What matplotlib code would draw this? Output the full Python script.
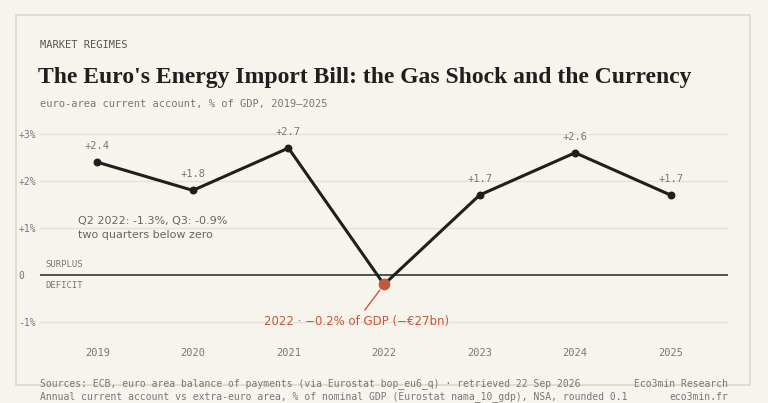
import matplotlib
matplotlib.use("Agg")
import matplotlib.pyplot as plt
from matplotlib.patches import Rectangle

years = [2019, 2020, 2021, 2022, 2023, 2024, 2025]
values = [2.4, 1.8, 2.7, -0.2, 1.7, 2.6, 1.7]
ytick_vals = [-1, 0, 1, 2, 3]
ytick_labels = ["-1%", "0", "+1%", "+2%", "+3%"]

BG = "#f7f4ee"
INK = "#1f1f1f"
GREY = "#777777"
RED = "#c4583a"
MONO = "DejaVu Sans Mono"

fig = plt.figure(figsize=(7.68, 4.03), dpi=100, facecolor=BG)
fig.patches.append(Rectangle((16/768, 1-385/403), 734/768, 370/403, transform=fig.transFigure,
                             fill=False, edgecolor="#e0d9c8", lw=1.2))
ax = fig.add_axes([40/768, 1-340/403, 688/768, 215/403], facecolor=BG)
ax.set_xlim(2018.40, 2025.6)
ax.set_ylim(-1.38, 3.19)
for s in ax.spines.values():
    s.set_visible(False)
for t in ytick_vals:
    if t != 0:
        ax.axhline(t, color="#e6e1d6", lw=1, zorder=0)
ax.axhline(0, color="#444444", lw=1.3, zorder=1)
ax.set_yticks(ytick_vals)
ax.set_yticklabels(ytick_labels, fontfamily=MONO, fontsize=7, color=GREY)
ax.set_xticks(years)
ax.set_xticklabels([str(y) for y in years], fontfamily=MONO, fontsize=7.5, color=GREY)
ax.tick_params(length=0, pad=-2)
ax.tick_params(axis="x", pad=6)
for lab in ax.get_yticklabels():
    lab.set_horizontalalignment("left")
    lab.set_x(-0.035)

ax.plot(years, values, color=INK, lw=2.2, zorder=3)
ax.scatter([y for y, v in zip(years, values) if v >= 0], [v for v in values if v >= 0],
           color=INK, s=22, zorder=4)
ax.scatter([2022], [values[3]], color=RED, s=55, zorder=5)
for y, v in zip(years, values):
    if v >= 0:
        ax.annotate(f"+{v:.1f}", (y, v), xytext=(0, 8), textcoords="offset points",
                    ha="center", va="bottom", fontfamily=MONO, fontsize=7.5, color=GREY)
ax.annotate("2022 · −0.2% of GDP (−€27bn)", (2022, values[3]), xytext=(-20, -22),
            textcoords="offset points", ha="center", va="top", fontsize=8.5, color=RED,
            arrowprops=dict(arrowstyle="-", color=RED, lw=1, shrinkA=2, shrinkB=5))
ax.text(2018.40 + 38/95.67, 1.0, "Q2 2022: -1.3%, Q3: -0.9%\ntwo quarters below zero",
        fontsize=8, color="#666666", va="center", linespacing=1.5)
ax.text(2018.40 + 5/95.67, 0.12, "SURPLUS", fontfamily=MONO, fontsize=6.5, color=GREY, va="bottom")
ax.text(2018.40 + 5/95.67, -0.12, "DEFICIT", fontfamily=MONO, fontsize=6.5, color=GREY, va="top")

fig.text(40/768, 1-45/403, "MARKET REGIMES", fontfamily=MONO, fontsize=7.5, color="#555555", va="center")
fig.text(38/768, 1-78/403, "The Euro's Energy Import Bill: the Gas Shock and the Currency",
         fontfamily="Liberation Serif", fontweight="bold", fontsize=17, color=INK, va="center")
fig.text(40/768, 1-104/403, "euro-area current account, % of GDP, 2019–2025", fontfamily=MONO,
         fontsize=7.5, color=GREY, va="center")
fig.text(40/768, 1-384/403, "Sources: ECB, euro area balance of payments (via Eurostat bop_eu6_q) · retrieved 22 Sep 2026",
         fontfamily=MONO, fontsize=7, color=GREY, va="center")
fig.text(40/768, 1-397/403, "Annual current account vs extra-euro area, % of nominal GDP (Eurostat nama_10_gdp), NSA, rounded 0.1",
         fontfamily=MONO, fontsize=7, color=GREY, va="center")
fig.text(728/768, 1-384/403, "Eco3min Research", fontfamily=MONO, fontsize=7, color=GREY, va="center", ha="right")
fig.text(728/768, 1-397/403, "eco3min.fr", fontfamily=MONO, fontsize=7, color=GREY, va="center", ha="right")

fig.savefig("out.png", dpi=100, facecolor=BG)
